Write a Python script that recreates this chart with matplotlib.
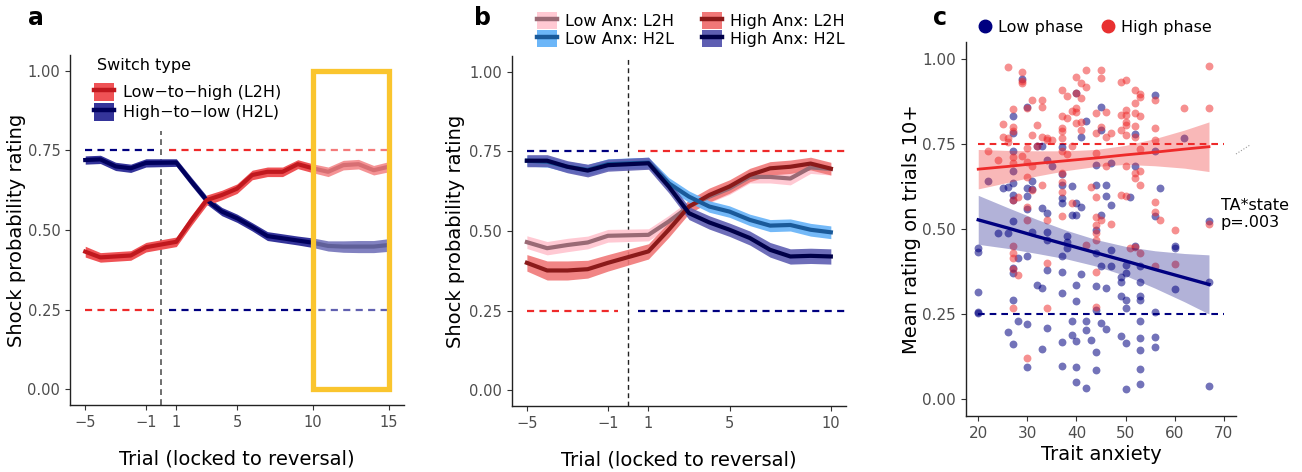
import numpy as np
import matplotlib
matplotlib.use("Agg")
import matplotlib.pyplot as plt
from matplotlib.patches import Patch, Rectangle
from matplotlib.lines import Line2D

plt.rcParams['font.family'] = ['DejaVu Sans']

# ---------------- panel a: switch type ----------------
trials_a = [-5, -4, -3, -2, -1, 1, 2, 3, 4, 5, 6, 7, 8, 9, 10, 11, 12, 13, 14, 15]
l2h_a = [0.432, 0.414, 0.417, 0.420, 0.446, 0.463, 0.531, 0.594, 0.610, 0.630,
         0.673, 0.683, 0.683, 0.707, 0.694, 0.683, 0.704, 0.707, 0.688, 0.699]
l2h_se_a = [0.017, 0.015, 0.015, 0.015, 0.015, 0.015, 0.016, 0.016, 0.015, 0.015,
            0.015, 0.015, 0.015, 0.014, 0.014, 0.015, 0.015, 0.015, 0.015, 0.016]
h2l_a = [0.720, 0.722, 0.700, 0.694, 0.711, 0.712, 0.652, 0.594, 0.558, 0.537,
         0.510, 0.481, 0.474, 0.467, 0.460, 0.450, 0.448, 0.448, 0.448, 0.453]
h2l_se_a = [0.013, 0.013, 0.013, 0.013, 0.013, 0.012, 0.013, 0.013, 0.013, 0.013,
            0.013, 0.014, 0.014, 0.014, 0.015, 0.016, 0.018, 0.019, 0.019, 0.020]
ticks_a = [-5, -1, 1, 5, 10, 15]

# ---------------- panel b: anxiety x switch type ----------------
trials_b = [-5, -4, -3, -2, -1, 1, 2, 3, 4, 5, 6, 7, 8, 9, 10]
low_l2h = [0.465, 0.446, 0.456, 0.464, 0.485, 0.488, 0.530, 0.577, 0.608, 0.634,
           0.670, 0.670, 0.665, 0.700, 0.695]
low_l2h_se = [0.020, 0.021, 0.021, 0.020, 0.020, 0.019, 0.019, 0.019, 0.019, 0.019,
              0.019, 0.019, 0.020, 0.019, 0.019]
high_l2h = [0.400, 0.376, 0.376, 0.380, 0.400, 0.436, 0.504, 0.577, 0.613, 0.640,
            0.676, 0.697, 0.702, 0.712, 0.696]
high_l2h_se = [0.026, 0.030, 0.030, 0.028, 0.026, 0.024, 0.024, 0.022, 0.022, 0.021,
               0.021, 0.021, 0.021, 0.020, 0.020]
low_h2l = [0.721, 0.718, 0.702, 0.692, 0.710, 0.715, 0.650, 0.608, 0.577, 0.561,
           0.535, 0.517, 0.519, 0.504, 0.496]
low_h2l_se = [0.017, 0.017, 0.017, 0.017, 0.017, 0.017, 0.018, 0.018, 0.018, 0.018,
              0.018, 0.019, 0.019, 0.020, 0.020]
high_h2l = [0.721, 0.721, 0.702, 0.690, 0.707, 0.713, 0.640, 0.556, 0.527, 0.504,
            0.478, 0.441, 0.420, 0.422, 0.420]
high_h2l_se = [0.019, 0.019, 0.019, 0.020, 0.019, 0.019, 0.020, 0.020, 0.021, 0.021,
               0.022, 0.023, 0.024, 0.024, 0.024]
ticks_b = [-5, -1, 1, 5, 10]

# ---------------- panel c: trait anxiety scatter ----------------
low_ta = [20, 20, 20, 20, 20, 22, 24, 25, 26, 26, 26,
          27, 27, 27, 27, 27, 27, 27, 27, 27, 27, 27, 27,
          28, 28, 29, 30, 30, 30, 30, 30, 30, 30, 31, 31, 31, 32, 32,
          33, 33, 33, 33, 34, 34, 34, 34, 34, 34, 35,
          37, 37, 37, 37, 37, 37, 37, 37, 37, 37, 38, 38, 38,
          39, 39, 39, 39, 40, 40, 40, 40, 40, 40, 40, 40, 41, 41, 41,
          42, 42, 42, 42, 43, 44, 44, 44, 44, 44, 44, 44, 44,
          45, 45, 45, 45, 45, 46, 46, 46, 46, 47, 47, 47, 47,
          49, 49, 49, 49, 50, 50, 50, 50, 50, 50, 51, 52, 52, 52,
          53, 53, 53, 53, 53, 53, 53, 53, 53,
          56, 56, 56, 56, 56, 56, 57, 60, 60, 60, 62, 67, 67, 67]
low_rating = [0.444, 0.431, 0.316, 0.252, 0.257, 0.640, 0.488, 0.620, 0.198, 0.623, 0.488,
              0.831, 0.782, 0.728, 0.672, 0.635, 0.600, 0.586, 0.525, 0.385, 0.370, 0.290, 0.162,
              0.414, 0.228, 0.940, 0.598, 0.620, 0.860, 0.560, 0.420, 0.222, 0.095, 0.640, 0.490, 0.617, 0.743, 0.336,
              0.743, 0.326, 0.146, 0.561, 0.704, 0.490, 0.468, 0.547, 0.380, 0.208, 0.684,
              0.741, 0.662, 0.630, 0.590, 0.576, 0.421, 0.375, 0.311, 0.167, 0.098, 0.478, 0.463, 0.444,
              0.627, 0.542, 0.188, 0.228, 0.900, 0.095, 0.287, 0.576, 0.542, 0.334, 0.171, 0.051, 0.772, 0.566, 0.368,
              0.031, 0.203, 0.230, 0.819, 0.174, 0.139, 0.085, 0.331, 0.262, 0.498, 0.429, 0.630, 0.689,
              0.223, 0.390, 0.860, 0.792, 0.542, 0.630, 0.596, 0.326, 0.205, 0.694, 0.392, 0.437, 0.571,
              0.185, 0.360, 0.345, 0.302, 0.395, 0.370, 0.292, 0.267, 0.164, 0.028, 0.593, 0.778, 0.684, 0.450,
              0.345, 0.303, 0.292, 0.228, 0.179, 0.144, 0.088, 0.043, 0.390,
              0.895, 0.728, 0.537, 0.257, 0.183, 0.152, 0.620, 0.323, 0.449, 0.444, 0.767, 0.525, 0.345, 0.039]
high_ta = [22, 24, 25, 25, 26, 26, 26,
           27, 27, 27, 27, 27, 27, 27, 27, 27, 27, 27, 28, 28,
           29, 29, 29, 29, 30, 30, 30, 30, 30, 30, 30, 31, 31, 31, 31, 32, 32,
           33, 33, 33, 33, 34, 34, 34, 34, 34, 35,
           37, 37, 37, 37, 37, 37, 37, 37, 37, 37, 38, 38, 38, 39, 39, 39,
           40, 40, 40, 40, 40, 41, 41, 41, 41, 42, 42, 42, 43,
           44, 44, 44, 44, 44, 44, 44, 44, 44, 44, 45, 45, 45, 45, 46, 46, 46, 47, 47,
           49, 49, 49, 49, 50, 50, 50, 50, 50, 50, 50, 50, 51,
           52, 52, 52, 52, 52, 52, 52, 52, 53, 53, 53, 53, 53, 53, 53,
           56, 56, 56, 56, 56, 56, 57, 60, 60, 62, 67, 67, 67]
high_rating = [0.728, 0.704, 0.810, 0.772, 0.976, 0.767, 0.757,
               0.854, 0.800, 0.787, 0.713, 0.694, 0.586, 0.449, 0.430, 0.414, 0.382, 0.267, 0.594, 0.365,
               0.963, 0.934, 0.715, 0.929, 0.696, 0.566, 0.856, 0.738, 0.653, 0.527, 0.122, 0.880, 0.686, 0.776, 0.615, 0.807, 0.743,
               0.880, 0.860, 0.770, 0.630, 0.767, 0.527, 0.400, 0.267, 0.762, 0.762,
               0.908, 0.797, 0.787, 0.728, 0.664, 0.637, 0.610, 0.831, 0.537, 0.767, 0.890, 0.826, 0.721, 0.576, 0.846, 0.743,
               0.900, 0.856, 0.948, 0.813, 0.843, 0.885, 0.930, 0.792, 0.816, 0.917, 0.968, 0.454, 0.625,
               0.841, 0.535, 0.512, 0.488, 0.468, 0.375, 0.272, 0.593, 0.782, 0.723, 0.527, 0.967, 0.800, 0.944, 0.843, 0.684, 0.772, 0.515, 0.782,
               0.931, 0.836, 0.792, 0.600, 0.939, 0.851, 0.836, 0.816, 0.684, 0.596, 0.806, 0.777, 0.445,
               0.910, 0.872, 0.841, 0.802, 0.664, 0.770, 0.448, 0.650, 0.897, 0.429, 0.888, 0.831, 0.735, 0.670, 0.630,
               0.880, 0.797, 0.762, 0.580, 0.550, 0.390, 0.527, 0.498, 0.396, 0.856, 0.980, 0.856, 0.515]

# fitted regression lines and confidence bands
fit_ta = [20, 26, 32, 38, 44, 50, 56, 62, 67]
high_fit = [0.676, 0.684, 0.693, 0.701, 0.709, 0.718, 0.726, 0.735, 0.742]
high_ci = [0.058, 0.047, 0.037, 0.029, 0.025, 0.028, 0.040, 0.056, 0.073]
low_fit = [0.527, 0.503, 0.478, 0.454, 0.430, 0.406, 0.381, 0.357, 0.337]
low_ci = [0.072, 0.060, 0.050, 0.042, 0.039, 0.043, 0.055, 0.071, 0.087]

RED = "#ee2a2a"
NAVY = "#000080"
TICK_GREY = "#4d4d4d"
YELLOW = "#fac52e"


def style_axes(ax, tick_size):
    for side in ("top", "right"):
        ax.spines[side].set_visible(False)
    for side in ("left", "bottom"):
        ax.spines[side].set_linewidth(1.0)
        ax.spines[side].set_color("#222222")
    ax.tick_params(axis="both", labelsize=tick_size, labelcolor=TICK_GREY,
                   color="#333333", length=3.5, width=0.8)


def ribbon(ax, x, y, se, band, line, band_alpha=1.0, lw=3.0):
    x = np.asarray(x, float)
    y = np.asarray(y, float)
    se = np.asarray(se, float)
    ax.fill_between(x, y - se, y + se, color=band, alpha=band_alpha, lw=0, zorder=2)
    ax.plot(x, y, color=line, lw=lw, zorder=3, solid_joinstyle="round")


def phase_refs(ax, xmax):
    kw = dict(lw=1.6, dashes=(3.2, 2.4), zorder=1)
    ax.plot([-5, -0.5], [0.75, 0.75], color=NAVY, **kw)
    ax.plot([0.5, xmax], [0.75, 0.75], color=RED, **kw)
    ax.plot([-5, -0.5], [0.25, 0.25], color=RED, **kw)
    ax.plot([0.5, xmax], [0.25, 0.25], color=NAVY, **kw)


def band_handle(band, line):
    return (Patch(facecolor=band, lw=0), Line2D([], [], color=line, lw=3.2))


fig = plt.figure(figsize=(13.02, 4.72), dpi=100)
ax_a = fig.add_axes([0.0538, 0.1419, 0.2565, 0.7415])
ax_b = fig.add_axes([0.3930, 0.1398, 0.2568, 0.7415])
ax_c = fig.add_axes([0.7419, 0.1186, 0.2074, 0.7924])

# ---- a ----
phase_refs(ax_a, 15)
ax_a.plot([0, 0], [-0.05, 0.81], color="#555555", lw=1.2, dashes=(3.5, 2.5), zorder=1)
ribbon(ax_a, trials_a, h2l_a, h2l_se_a, "#34349a", "#00005c")
ribbon(ax_a, trials_a, l2h_a, l2h_se_a, "#ef5255", "#c0181e")
ax_a.add_patch(Rectangle((10, 0), 5, 1.0, facecolor=(1, 1, 1, 0.38),
                         edgecolor=YELLOW, lw=3.8, zorder=5))
ax_a.set_xlim(-6, 16)
ax_a.set_ylim(-0.05, 1.05)
ax_a.set_xticks(ticks_a)
ax_a.set_xticklabels([str(t).replace("-", "\u2212") for t in ticks_a])
ax_a.set_yticks([0, 0.25, 0.5, 0.75, 1.0])
ax_a.set_yticklabels(["0.00", "0.25", "0.50", "0.75", "1.00"])
style_axes(ax_a, 10.5)
ax_a.set_xlabel("Trial (locked to reversal)", fontsize=14, labelpad=14)
ax_a.set_ylabel("Shock probability rating", fontsize=14, labelpad=1)
ax_a.text(0.081, 0.97, "Switch type", transform=ax_a.transAxes, fontsize=11.5,
          ha="left", va="center")
ax_a.legend([band_handle("#ef5255", "#c0181e"), band_handle("#34349a", "#00005c")],
            ["Low\u2212to\u2212high (L2H)", "High\u2212to\u2212low (H2L)"],
            loc="upper left", bbox_to_anchor=(0.068, 0.925),
            frameon=False, fontsize=11.5, handlelength=1.25, handleheight=1.35,
            handletextpad=0.55, labelspacing=0.12, borderaxespad=0.0, borderpad=0.1)

# ---- b ----
phase_refs(ax_b, 10.75)
ax_b.axvline(0, color="#222222", lw=1.0, dashes=(3.5, 2.5), zorder=1)
ribbon(ax_b, trials_b, low_l2h, low_l2h_se, "#ffc9d3", "#9a6a75")
ribbon(ax_b, trials_b, high_l2h, high_l2h_se, "#f07878", "#8b1a1a", band_alpha=0.9)
ribbon(ax_b, trials_b, low_h2l, low_h2l_se, "#6cb6f8", "#1a5a9a", band_alpha=0.95)
ribbon(ax_b, trials_b, high_h2l, high_h2l_se, "#5e5eb2", "#000048", band_alpha=0.9)
ax_b.set_xlim(-5.75, 10.75)
ax_b.set_ylim(-0.05, 1.05)
ax_b.set_xticks(ticks_b)
ax_b.set_xticklabels([str(t).replace("-", "\u2212") for t in ticks_b])
ax_b.set_yticks([0, 0.25, 0.5, 0.75, 1.0])
ax_b.set_yticklabels(["0.00", "0.25", "0.50", "0.75", "1.00"])
style_axes(ax_b, 10.5)
ax_b.set_xlabel("Trial (locked to reversal)", fontsize=14, labelpad=14)
ax_b.set_ylabel("Shock probability rating", fontsize=14, labelpad=3)
ax_b.legend([band_handle("#ffc9d3", "#9a6a75"), band_handle("#6cb6f8", "#1a5a9a"),
             band_handle("#f07878", "#8b1a1a"), band_handle("#5e5eb2", "#000048")],
            ["Low Anx: L2H", "Low Anx: H2L", "High Anx: L2H", "High Anx: H2L"],
            ncol=2, loc="lower left", bbox_to_anchor=(0.07, 1.02), frameon=False,
            fontsize=11.5, handlelength=1.25, handleheight=1.3, handletextpad=0.55,
            labelspacing=0.05, columnspacing=1.7, borderaxespad=0.0, borderpad=0.1)

# ---- c ----
ax_c.scatter(low_ta, low_rating, s=32, color=NAVY, alpha=0.55, lw=0, zorder=2)
ax_c.scatter(high_ta, high_rating, s=32, color=RED, alpha=0.52, lw=0, zorder=2)
hf = np.asarray(high_fit)
hc = np.asarray(high_ci)
lf = np.asarray(low_fit)
lc = np.asarray(low_ci)
ax_c.fill_between(fit_ta, hf - hc, hf + hc, color=RED, alpha=0.33, lw=0, zorder=3)
ax_c.fill_between(fit_ta, lf - lc, lf + lc, color=NAVY, alpha=0.3, lw=0, zorder=3)
ax_c.plot(fit_ta, high_fit, color=RED, lw=2.0, zorder=4)
ax_c.plot(fit_ta, low_fit, color=NAVY, lw=2.4, zorder=4)
ax_c.plot([20, 70], [0.75, 0.75], color=RED, lw=1.5, dashes=(3.2, 2.4), zorder=1)
ax_c.plot([20, 70], [0.25, 0.25], color=NAVY, lw=1.5, dashes=(3.2, 2.4), zorder=1)
ax_c.text(69.4, 0.545, "TA*state\np=.003", fontsize=11.5, ha="left", va="center",
          linespacing=1.15, clip_on=False, zorder=6)
ax_c.set_xlim(17.5, 72.5)
ax_c.set_ylim(-0.05, 1.05)
ax_c.set_xticks([20, 30, 40, 50, 60, 70])
ax_c.set_yticks([0, 0.25, 0.5, 0.75, 1.0])
ax_c.set_yticklabels(["0.00", "0.25", "0.50", "0.75", "1.00"])
style_axes(ax_c, 11)
ax_c.set_xlabel("Trait anxiety", fontsize=14, labelpad=3)
ax_c.set_ylabel("Mean rating on trials 10+", fontsize=14, labelpad=1)
ax_c.legend([Line2D([], [], ls="", marker="o", ms=9, color=NAVY),
             Line2D([], [], ls="", marker="o", ms=9, color="#e83030")],
            ["Low phase", "High phase"], ncol=2, loc="lower left",
            bbox_to_anchor=(0.035, 1.01), frameon=False, fontsize=11.5,
            handlelength=0.8, handletextpad=0.4, columnspacing=1.2,
            borderaxespad=0.0, borderpad=0.2)
fig.add_artist(Line2D([1236 / 1302, 1250 / 1302], [1 - 154 / 472, 1 - 145 / 472],
                      color="#999999", lw=0.8, ls=":"))

# panel letters
fig.text(36 / 1302, 1 - 18 / 472, "a", fontsize=17, fontweight="bold", ha="center", va="center")
fig.text(483 / 1302, 1 - 18 / 472, "b", fontsize=17, fontweight="bold", ha="center", va="center")
fig.text(940 / 1302, 1 - 18 / 472, "c", fontsize=17, fontweight="bold", ha="center", va="center")

fig.savefig("out.png", dpi=100)
